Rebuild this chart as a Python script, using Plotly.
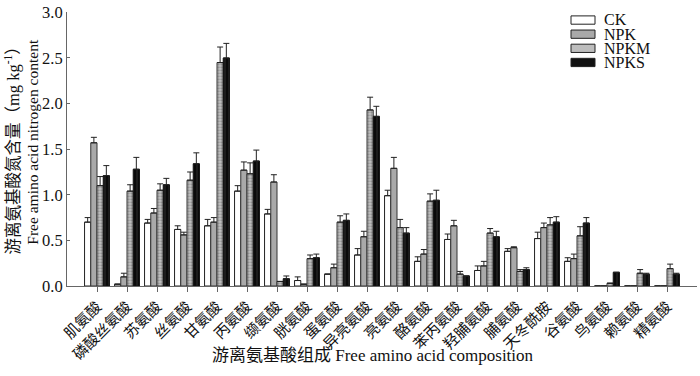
import plotly.graph_objects as go

categories = ["肌氨酸", "磷酸丝氨酸", "苏氨酸", "丝氨酸", "甘氨酸", "丙氨酸", "缬氨酸", "胱氨酸",
              "蛋氨酸", "异亮氨酸", "亮氨酸", "酪氨酸", "苯丙氨酸", "羟脯氨酸", "脯氨酸",
              "天冬酰胺", "谷氨酸", "鸟氨酸", "赖氨酸", "精氨酸"]

ck = [0.70, 0.02, 0.69, 0.62, 0.66, 1.04, 0.79, 0.06, 0.13, 0.34, 0.99, 0.27, 0.51, 0.17, 0.38, 0.52, 0.27, 0.0, 0.0, 0.0]
ck_err = [0.05, 0.0, 0.04, 0.04, 0.07, 0.06, 0.05, 0.04, 0.0, 0.07, 0.06, 0.05, 0.06, 0.05, 0.03, 0.07, 0.04, 0.0, 0.0, 0.0]
npk = [1.57, 0.10, 0.80, 0.56, 0.70, 1.27, 1.14, 0.02, 0.20, 0.54, 1.29, 0.35, 0.66, 0.22, 0.42, 0.64, 0.30, 0.0, 0.0, 0.0]
npk_err = [0.06, 0.04, 0.05, 0.03, 0.05, 0.09, 0.08, 0.0, 0.04, 0.06, 0.12, 0.05, 0.06, 0.05, 0.01, 0.05, 0.05, 0.0, 0.0, 0.0]
npkm = [1.10, 1.04, 1.05, 1.16, 2.45, 1.23, 0.05, 0.30, 0.70, 1.93, 0.64, 0.93, 0.13, 0.58, 0.16, 0.67, 0.55, 0.03, 0.14, 0.19]
npkm_err = [0.10, 0.07, 0.07, 0.09, 0.17, 0.12, 0.0, 0.04, 0.07, 0.14, 0.09, 0.08, 0.03, 0.05, 0.02, 0.08, 0.10, 0.0, 0.04, 0.05]
npks = [1.21, 1.28, 1.11, 1.34, 2.50, 1.37, 0.08, 0.31, 0.72, 1.86, 0.58, 0.94, 0.11, 0.54, 0.18, 0.70, 0.69, 0.15, 0.13, 0.13]
npks_err = [0.11, 0.13, 0.07, 0.12, 0.16, 0.12, 0.03, 0.04, 0.07, 0.11, 0.06, 0.11, 0.0, 0.06, 0.02, 0.06, 0.06, 0.0, 0.01, 0.01]

series_names = ["CK", "NPK", "NPKM", "NPKS"]
series_fill = ["white", "#a9a9a9", "#bdbdbd", "#111111"]

markers = [
    dict(color="white", line=dict(color="#222", width=1)),
    dict(color="#a9a9a9", line=dict(color="#333", width=1)),
    dict(color="#b5b5b5", line=dict(color="#333", width=1),
         pattern=dict(shape=".", fgcolor="#5a5a5a", bgcolor="#c4c4c4", size=3, solidity=0.45)),
    dict(color="#111", line=dict(color="#111", width=1),
         pattern=dict(shape="|", fgcolor="#454545", bgcolor="#0a0a0a", size=4, solidity=0.3)),
]
values = [ck, npk, npkm, npks]
errors = [ck_err, npk_err, npkm_err, npks_err]

serif = "Liberation Serif, Noto Sans CJK SC, serif"

fig = go.Figure()
for name, vals, errs, marker in zip(series_names, values, errors, markers):
    fig.add_trace(go.Bar(
        name=name, x=categories, y=vals, marker=marker, showlegend=False,
        error_y=dict(type="data", symmetric=False, array=errs, arrayminus=[0] * len(errs),
                     color="#222", thickness=1, width=3),
    ))

# legend drawn as swatches + text (tight spacing like the reference)
L = 67
W = 630
for i, (name, fill) in enumerate(zip(series_names, series_fill)):
    ytop = 9 + i * 14.5
    fig.add_shape(type="rect", xref="paper", yref="paper",
                  x0=(571 - L) / W, x1=(595 - L) / W,
                  y0=(286 - ytop) / 281, y1=(286 - ytop - 8.5) / 281,
                  fillcolor=fill, line=dict(color="#222", width=1))
    fig.add_annotation(text=name, xref="paper", yref="paper", x=(602 - L) / W, y=(286 - ytop - 4.2) / 281,
                       xanchor="left", yanchor="middle", showarrow=False,
                       font=dict(size=16, family=serif, color="#111"))

fig.add_annotation(text="游离氨基酸组成 Free amino acid composition", xref="paper", yref="paper",
                   x=(373 - L) / W, y=(286 - 357) / 281, xanchor="center", yanchor="middle",
                   showarrow=False, font=dict(size=17, family=serif, color="#111"))
fig.add_annotation(text="游离氨基酸氮含量（mg kg<sup>-1</sup>）", xref="paper", yref="paper",
                   x=(13 - L) / W, y=(286 - 143) / 281, xanchor="center", yanchor="middle",
                   textangle=-90, showarrow=False, font=dict(size=16.5, family=serif, color="#111"))
fig.add_annotation(text="Free amino acid nitrogen content", xref="paper", yref="paper",
                   x=(33 - L) / W, y=(286 - 138) / 281, xanchor="center", yanchor="middle",
                   textangle=-90, showarrow=False, font=dict(size=15.5, family=serif, color="#111"))

fig.update_layout(
    width=700, height=376,
    margin=dict(l=67, r=3, t=5, b=90),
    paper_bgcolor="white", plot_bgcolor="white",
    barmode="group", bargap=0.17, bargroupgap=0,
    font=dict(family=serif, color="#111", size=14),
    showlegend=False,
)
fig.update_xaxes(
    tickangle=-45, tickfont=dict(size=15, family="Noto Sans CJK SC", color="#111"),
    showline=True, linecolor="#666", linewidth=1, ticks="outside", ticklen=5, tickcolor="#666",
    range=[-1, 20],
)
fig.update_yaxes(
    range=[0, 3.004], dtick=0.5, tickformat=".1f", tickfont=dict(size=16.5, family=serif, color="#111"),
    showline=True, linecolor="#666", linewidth=1, ticks="inside", ticklen=3, tickcolor="#666",
    showgrid=False, zeroline=False, ticklabeloverflow="allow",
)

fig.write_html("out.html", config={"displayModeBar": False},
               post_script="document.body.style.margin='0';document.body.style.overflow='hidden';")
